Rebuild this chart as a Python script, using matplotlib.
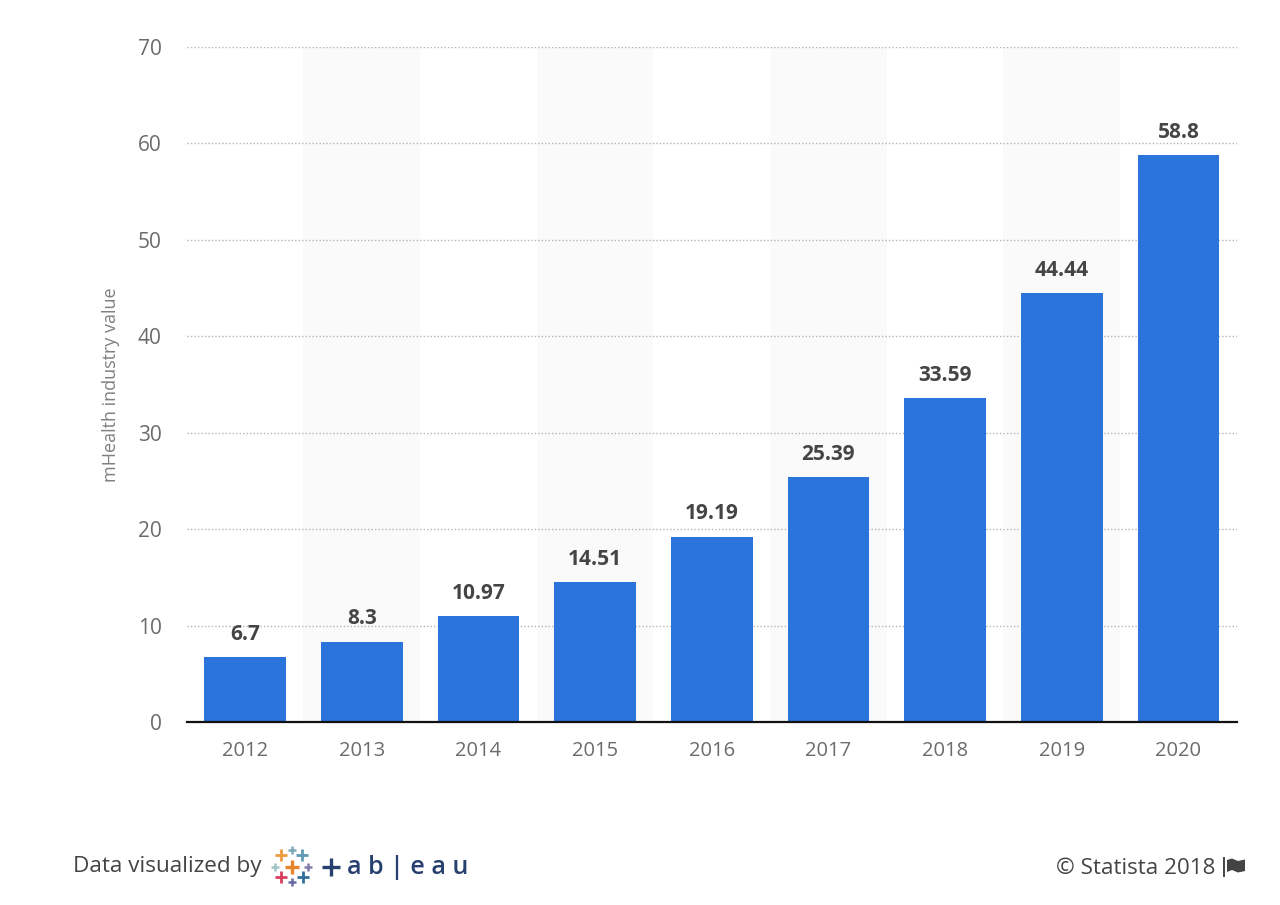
import matplotlib
matplotlib.use('Agg')
import matplotlib.pyplot as plt

plt.rcParams['font.family'] = ['Open Sans', 'DejaVu Sans']

ANOS = ['2012', '2013', '2014', '2015', '2016', '2017', '2018', '2019', '2020']
VALORES = [6.7, 8.3, 10.97, 14.51, 19.19, 25.39, 33.59, 44.44, 58.8]
ROTULOS = ['6.7', '8.3', '10.97', '14.51', '19.19', '25.39', '33.59', '44.44', '58.8']
Y_TICKS = [0, 10, 20, 30, 40, 50, 60, 70]

AZUL = '#2a74db'
CINZA = '#6b6b6b'

W, H = 1280, 905
fig = plt.figure(figsize=(W / 100, H / 100), dpi=100, facecolor='white')
ax = fig.add_axes([186.8 / W, 1 - 722 / H, 1050 / W, 675 / H])

# faixas alternadas
for i in range(1, len(ANOS), 2):
    ax.axvspan(i - 0.5, i + 0.5, color='#fafafa', lw=0, zorder=0)

ax.bar(range(len(ANOS)), VALORES, width=0.7, color=AZUL, zorder=3)

for i, (v, r) in enumerate(zip(VALORES, ROTULOS)):
    ax.annotate(r, (i, v), xytext=(0, 23), textcoords='offset pixels', ha='center', va='center',
                fontsize=15, fontweight='bold', color='#454545', zorder=4)

ax.set_xlim(-0.5, len(ANOS) - 0.5)
ax.set_ylim(0, 70)
ax.set_xticks(range(len(ANOS)))
ax.set_xticklabels(ANOS)
ax.set_yticks(Y_TICKS)
ax.tick_params(axis='x', length=0, pad=14, labelsize=14.5, labelcolor=CINZA)
ax.tick_params(axis='y', length=0, pad=18, labelsize=15, labelcolor=CINZA)
ax.grid(True, axis='y', color='#b5b5b5', linestyle=(0, (1, 1.5)), linewidth=1, zorder=1)
ax.set_axisbelow(True)
for lado in ['top', 'right', 'left']:
    ax.spines[lado].set_visible(False)
ax.spines['bottom'].set_color('#111111')
ax.spines['bottom'].set_linewidth(1.6)
ax.spines['bottom'].set_zorder(5)

# camada em pixels para o rodapé
over = fig.add_axes([0, 0, 1, 1], facecolor='none')
over.set_xlim(0, W)
over.set_ylim(H, 0)
over.axis('off')

over.text(111, 384.5, 'mHealth industry value', rotation=90, ha='center', va='center', fontsize=13, color='#808080')
over.text(73, 866, 'Data visualized by', ha='left', va='center', fontsize=16.2, color='#444444')
over.text(1215, 868, '© Statista 2018', ha='right', va='center', fontsize=16.1, color='#444444')

# logo
LOGO = [
    (291.7, 866.7, 10, '#e8862e', 2.4), (281, 855, 8.5, '#ee9a3f', 2), (301.7, 855, 8.5, '#5f9bb5', 2),
    (291.7, 850, 6, '#7fa9b8', 1.8), (275, 866.7, 6, '#9fc4c2', 1.8), (308.3, 866.7, 6, '#7f7fae', 1.8),
    (281, 877, 8.5, '#d6405c', 2), (302.7, 877, 8.5, '#2f6f9f', 2), (291.7, 882, 6, '#6a6aa5', 1.8),
]
for x, y, tam, cor, esp in LOGO:
    over.plot([x], [y], marker='+', markersize=tam, markeredgewidth=esp, color=cor)
over.plot([331], [867], marker='+', markersize=13, markeredgewidth=2.4, color='#27406f')
over.text(347, 867, 'a b | e a u', ha='left', va='center', fontsize=18, fontweight='semibold', color='#27406f')

# bandeira
over.plot([1224, 1224], [858, 876], color='#444444', lw=1.4)
over.fill([1227, 1232, 1238, 1245, 1245, 1238, 1232, 1227], [860, 858.5, 861, 859.5, 871, 872.5, 870, 872],
          color='#444444', lw=0)

fig.savefig('out.png', dpi=100)
